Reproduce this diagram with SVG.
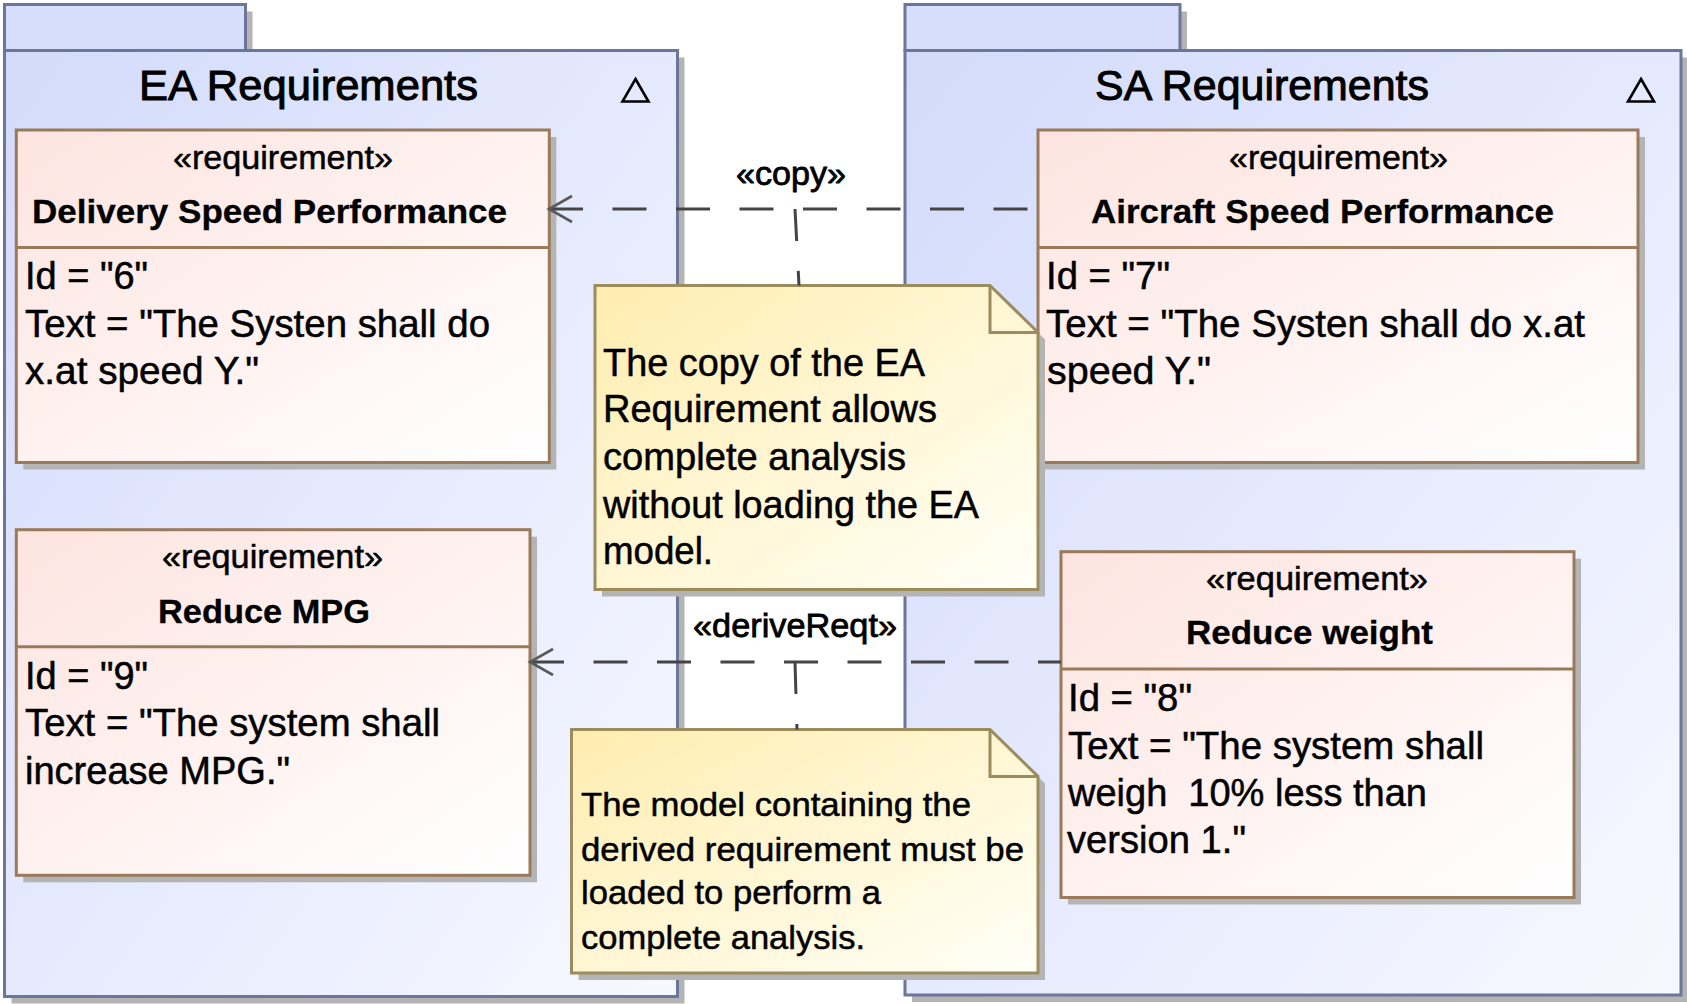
<svg xmlns="http://www.w3.org/2000/svg" width="1687" height="1004" viewBox="0 0 1687 1004">
<defs>
<linearGradient id="pkgGrad" x1="0" y1="0" x2="1" y2="1">
<stop offset="0" stop-color="#d3dbfb"/>
<stop offset="1" stop-color="#f7f8ff"/>
</linearGradient>
<linearGradient id="reqGrad" x1="0" y1="0" x2="1" y2="1">
<stop offset="0" stop-color="#fde4e0"/>
<stop offset="1" stop-color="#ffffff"/>
</linearGradient>
<linearGradient id="noteGrad" x1="0" y1="0" x2="1" y2="1">
<stop offset="0" stop-color="#ffedaf"/>
<stop offset="1" stop-color="#fffff8"/>
</linearGradient>
<marker id="openArrow" viewBox="-26 -16 30 32" refX="0" refY="0" markerWidth="30" markerHeight="32" markerUnits="userSpaceOnUse" orient="auto-start-reverse">
<path d="M-23 -13 L0 0 L-23 13" fill="none" stroke="#5a5a5a" stroke-width="2.6" stroke-dasharray="none"/>
</marker>
<style>
text{font-family:"Liberation Sans",Arial,sans-serif;fill:#000;stroke:#000;stroke-width:0.5;}
.title{font-size:43px;stroke-width:1;}
.stereo{font-size:34px;}
.name{font-size:34px;font-weight:bold;stroke-width:0.3;}
.body{font-size:38px;}
.n1{font-size:38px;}
.n2{font-size:34px;}
.lbl{font-size:34px;stroke-width:0.8;}
.shadow{fill:#b4b4b4;}
.pkg{fill:url(#pkgGrad);stroke:#6a779a;stroke-width:3;}
.tab{fill:#d6defc;stroke:#6a779a;stroke-width:3;}
.req{fill:url(#reqGrad);stroke:#9a7a5b;stroke-width:3;}
.div{stroke:#9a7a5b;stroke-width:3;}
.note{fill:url(#noteGrad);stroke:#9c8c5c;stroke-width:3;}
.fold{fill:none;stroke:#9c8c5c;stroke-width:3;}
.tri{fill:none;stroke:#000;stroke-width:2.6;}
.dep{fill:none;stroke:#444;stroke-width:3;stroke-dasharray:34 29.5;}
.anchor{fill:none;stroke:#444;stroke-width:3;stroke-dasharray:32 30;}
</style>
</defs>

<g id="pkg-ea">
<rect class="shadow" x="11.5" y="11.5" width="241" height="39"/>
<rect class="shadow" x="11.5" y="57.5" width="673" height="946"/>
<rect class="tab" x="4.5" y="4.5" width="241" height="46"/>
<rect class="pkg" x="4.5" y="50.5" width="673" height="946"/>
<text class="title" x="139" y="99.5" textLength="339" lengthAdjust="spacingAndGlyphs">EA Requirements</text>
<path class="tri" d="M635.5 79 L648.5 101.5 H622.5 Z"/>
</g>

<g id="pkg-sa">
<rect class="shadow" x="912" y="11.5" width="275" height="39"/>
<rect class="shadow" x="912" y="57.5" width="776" height="944.5"/>
<rect class="tab" x="905" y="4.5" width="275" height="46"/>
<rect class="pkg" x="905" y="50.5" width="776" height="944.5"/>
<text class="title" x="1095" y="99.5" textLength="334" lengthAdjust="spacingAndGlyphs">SA Requirements</text>
<path class="tri" d="M1641 79 L1654 101.5 H1628 Z"/>
</g>

<g id="req-delivery">
<rect class="shadow" x="23.3" y="137" width="533" height="332.5"/>
<rect class="req" x="16.3" y="130" width="533" height="332.5"/>
<line class="div" x1="16.3" y1="247.5" x2="549.3" y2="247.5"/>
<text class="stereo" x="173" y="169" textLength="220" lengthAdjust="spacingAndGlyphs">«requirement»</text>
<text class="name" x="32" y="223" textLength="475" lengthAdjust="spacingAndGlyphs">Delivery Speed Performance</text>
<text class="body" x="25" y="289" textLength="123" lengthAdjust="spacingAndGlyphs">Id = "6"</text>
<text class="body" x="25" y="337" textLength="465" lengthAdjust="spacingAndGlyphs">Text = "The Systen shall do</text>
<text class="body" x="25" y="384" textLength="234" lengthAdjust="spacingAndGlyphs">x.at speed Y."</text>
</g>

<g id="req-aircraft">
<rect class="shadow" x="1045" y="137" width="600" height="332.5"/>
<rect class="req" x="1038" y="130" width="600" height="332.5"/>
<line class="div" x1="1038" y1="247.5" x2="1638" y2="247.5"/>
<text class="stereo" x="1229" y="169" textLength="219" lengthAdjust="spacingAndGlyphs">«requirement»</text>
<text class="name" x="1091" y="223" textLength="463" lengthAdjust="spacingAndGlyphs">Aircraft Speed Performance</text>
<text class="body" x="1046" y="289" textLength="124" lengthAdjust="spacingAndGlyphs">Id = "7"</text>
<text class="body" x="1046" y="337" textLength="539" lengthAdjust="spacingAndGlyphs">Text = "The Systen shall do x.at</text>
<text class="body" x="1047" y="384" textLength="164" lengthAdjust="spacingAndGlyphs">speed Y."</text>
</g>

<g id="req-mpg">
<rect class="shadow" x="23.3" y="536.7" width="513.7" height="345.6"/>
<rect class="req" x="16.3" y="529.7" width="513.7" height="345.6"/>
<line class="div" x1="16.3" y1="646.7" x2="530" y2="646.7"/>
<text class="stereo" x="162" y="568" textLength="221" lengthAdjust="spacingAndGlyphs">«requirement»</text>
<text class="name" x="158" y="623" textLength="212" lengthAdjust="spacingAndGlyphs">Reduce MPG</text>
<text class="body" x="25" y="689" textLength="123" lengthAdjust="spacingAndGlyphs">Id = "9"</text>
<text class="body" x="25" y="736" textLength="415" lengthAdjust="spacingAndGlyphs">Text = "The system shall</text>
<text class="body" x="25" y="784" textLength="265" lengthAdjust="spacingAndGlyphs">increase MPG."</text>
</g>

<g id="req-weight">
<rect class="shadow" x="1068" y="558.7" width="513" height="345.8"/>
<rect class="req" x="1061" y="551.7" width="513" height="345.8"/>
<line class="div" x1="1061" y1="669" x2="1574" y2="669"/>
<text class="stereo" x="1206" y="590" textLength="222" lengthAdjust="spacingAndGlyphs">«requirement»</text>
<text class="name" x="1186" y="644" textLength="247" lengthAdjust="spacingAndGlyphs">Reduce weight</text>
<text class="body" x="1068" y="711" textLength="124" lengthAdjust="spacingAndGlyphs">Id = "8"</text>
<text class="body" x="1068" y="759" textLength="416" lengthAdjust="spacingAndGlyphs">Text = "The system shall</text>
<text class="body" x="1068" y="806" textLength="359" lengthAdjust="spacingAndGlyphs" xml:space="preserve">weigh  10% less than</text>
<text class="body" x="1067" y="853" textLength="179" lengthAdjust="spacingAndGlyphs">version 1."</text>
</g>

<g id="note-copy">
<path class="shadow" d="M602 292.5 H997 L1045 339.5 V596.5 H602 Z"/>
<path class="note" d="M595 285.5 H990 L1038 332.5 V589.5 H595 Z"/>
<path class="fold" d="M990 285.5 V332.5 H1038"/>
<text class="n1" x="603" y="376" textLength="322" lengthAdjust="spacingAndGlyphs">The copy of the EA</text>
<text class="n1" x="603" y="422" textLength="334" lengthAdjust="spacingAndGlyphs">Requirement allows</text>
<text class="n1" x="603" y="470" textLength="303" lengthAdjust="spacingAndGlyphs">complete analysis</text>
<text class="n1" x="603" y="518" textLength="376" lengthAdjust="spacingAndGlyphs">without loading the EA</text>
<text class="n1" x="603" y="564" textLength="110" lengthAdjust="spacingAndGlyphs">model.</text>
</g>

<g id="note-derive">
<path class="shadow" d="M578.5 736.5 H997 L1045 783.5 V980 H578.5 Z"/>
<path class="note" d="M571.5 729.5 H990 L1038 776.5 V973 H571.5 Z"/>
<path class="fold" d="M990 729.5 V776.5 H1038"/>
<text class="n2" x="581" y="816" textLength="390" lengthAdjust="spacingAndGlyphs">The model containing the</text>
<text class="n2" x="581" y="861" textLength="443" lengthAdjust="spacingAndGlyphs">derived requirement must be</text>
<text class="n2" x="581" y="904" textLength="300" lengthAdjust="spacingAndGlyphs">loaded to perform a</text>
<text class="n2" x="581" y="949" textLength="284" lengthAdjust="spacingAndGlyphs">complete analysis.</text>
</g>

<g id="connectors">
<path id="copy" class="dep" d="M549 209 H1038" marker-start="url(#openArrow)"/>
<text class="lbl" x="736" y="185" textLength="110" lengthAdjust="spacingAndGlyphs">«copy»</text>
<path id="copy-anchor" class="anchor" d="M795 209 L799 285.5"/>
<path id="derive" class="dep" d="M530 662 H1061" marker-start="url(#openArrow)"/>
<text class="lbl" x="693" y="637" textLength="204" lengthAdjust="spacingAndGlyphs">«deriveReqt»</text>
<path id="derive-anchor" class="anchor" d="M795 662 L797 729.5"/>
</g>
</svg>
